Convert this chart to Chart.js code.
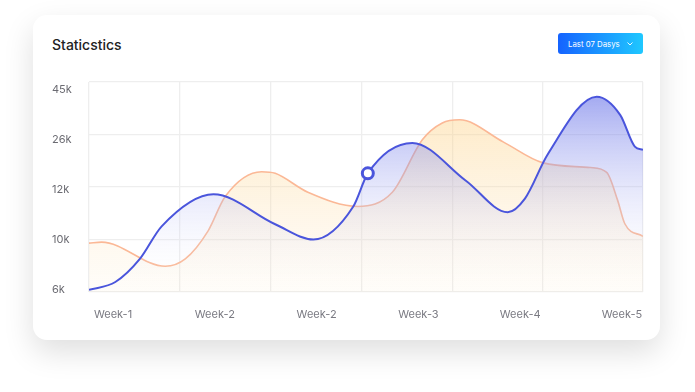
<!DOCTYPE html>
<html>
<head>
<meta charset="utf-8">
<script src="https://cdn.jsdelivr.net/npm/chart.js@4.4.1/dist/chart.umd.min.js"></script>
<style>
  html, body { margin: 0; padding: 0; background: #fff; }
  body { width: 695px; height: 392px; position: relative; overflow: hidden; font-family: 'Inter', sans-serif; }
  #card {
    position: absolute; left: 33px; top: 15px; width: 627px; height: 325px;
    background: #fff; border-radius: 14px;
    box-shadow: 0 12px 30px rgba(0, 0, 0, 0.13);
  }
  #title { position: absolute; left: 52px; top: 36px; font-size: 14px; font-weight: 500; color: #222; }
  #range-btn {
    position: absolute; left: 558px; top: 33px; width: 85px; height: 21px;
    border-radius: 3px; color: #fff; font-size: 7.8px;
    background: linear-gradient(90deg, #1563ff, #1fc8ff);
    display: flex; align-items: center; padding-left: 10px; box-sizing: border-box;
  }
  #range-btn svg { margin-left: 7px; }
  #chart { position: absolute; left: 0; top: 0; }
</style>
</head>
<body>
<div id="card"></div>
<div id="title">Staticstics</div>
<div id="range-btn">Last 07 Dasys
  <svg width="6" height="4" viewBox="0 0 6 4"><path d="M0.5 0.5 L3 3 L5.5 0.5" fill="none" stroke="#fff" stroke-width="0.9"/></svg>
</div>
<canvas id="chart" width="695" height="392"></canvas>
<script>
// tick labels
const weekLabels = ['Week-1', 'Week-2', 'Week-2', 'Week-3', 'Week-4', 'Week-5']
const valueLabels = ['6k', '10k', '12k', '26k', '45k']

// series (x in grid columns, y in grid rows : 0 = 6k ... 4 = 45k)
const blueX = [0, 0.29, 0.56, 0.8, 1.37, 2.05, 2.47, 2.91, 3.07, 3.56, 4.15, 4.61, 4.8, 5.05, 5.59, 5.85, 6.01, 6.1]
const blueY = [0.04, 0.19, 0.63, 1.25, 1.86, 1.29, 1.0, 1.63, 2.26, 2.84, 2.12, 1.52, 1.78, 2.62, 3.72, 3.37, 2.77, 2.71]
const orangeX = [0, 0.14, 0.84, 1.06, 1.31, 1.5, 1.9, 2.05, 2.41, 2.96, 3.34, 3.67, 3.89, 4.08, 4.56, 5.0, 5.52, 5.7, 5.82, 5.9, 6.1]
const orangeY = [0.93, 0.95, 0.49, 0.63, 1.16, 1.82, 2.29, 2.26, 1.9, 1.63, 1.9, 2.9, 3.22, 3.28, 2.86, 2.46, 2.37, 2.28, 1.75, 1.3, 1.06]
const markerIndex = 8

// grid columns
const gridCols = [0, 1, 2, 3, 4, 5, 6.1]

Chart.defaults.font.family = 'Inter'

function toPoints(xs, ys) {
  return xs.map((x, i) => ({ x: x, y: ys[i] }))
}

function gradient(ctx, top, bottom) {
  const area = ctx.chart.chartArea
  if (!area) return top
  const g = ctx.chart.ctx.createLinearGradient(0, area.top, 0, area.bottom)
  g.addColorStop(0, top)
  g.addColorStop(1, bottom)
  return g
}

const chart = document.getElementById('chart')
new Chart(chart, {
  type: 'line',
  data: {
    datasets: [
      {
        data: toPoints(blueX, blueY),
        borderColor: '#4a55dc',
        borderWidth: 2,
        cubicInterpolationMode: 'monotone',
        fill: 'origin',
        backgroundColor: (ctx) => gradient(ctx, 'rgba(80, 92, 228, 0.6)', 'rgba(255, 255, 255, 0)'),
        pointRadius: blueX.map((x, i) => i == markerIndex ? 5.5 : 0),
        pointHoverRadius: 0,
        pointBorderWidth: 3,
        pointBorderColor: '#4a55dc',
        pointBackgroundColor: '#fff'
      },
      {
        data: toPoints(orangeX, orangeY),
        borderColor: '#fbb896',
        borderWidth: 1.6,
        cubicInterpolationMode: 'monotone',
        fill: 'origin',
        backgroundColor: (ctx) => gradient(ctx, 'rgba(253, 205, 120, 0.5)', 'rgba(253, 225, 180, 0.08)'),
        pointRadius: 0
      }
    ]
  },
  options: {
    responsive: false,
    animation: false,
    layout: { padding: { left: 52, right: 52, top: 82, bottom: 70 } },
    plugins: { legend: { display: false }, tooltip: { enabled: false } },
    scales: {
      // grid only
      x: {
        type: 'linear', position: 'top', min: 0, max: 6.1,
        afterBuildTicks: (axis) => { axis.ticks = gridCols.map(v => ({ value: v })) },
        afterFit: (axis) => { axis.height = 0 },
        ticks: { display: false },
        grid: { color: '#eeeeee', lineWidth: 1.3, drawTicks: false },
        border: { display: false }
      },
      y: {
        type: 'linear', position: 'right', min: 0, max: 4,
        afterBuildTicks: (axis) => { axis.ticks = valueLabels.map((l, i) => ({ value: i })) },
        afterFit: (axis) => { axis.width = 0 },
        ticks: { display: false },
        grid: { color: '#eeeeee', lineWidth: 1.3, drawTicks: false },
        border: { display: false }
      },
      // labels only
      xl: {
        type: 'linear', position: 'bottom', min: -0.236, max: 5.206,
        afterBuildTicks: (axis) => { axis.ticks = weekLabels.map((l, i) => ({ value: i })) },
        afterFit: (axis) => { axis.height = 30 },
        ticks: { callback: (v, i) => weekLabels[i], color: '#7a7a82', font: { size: 11 }, padding: 16, maxRotation: 0 },
        grid: { display: false, drawTicks: false },
        border: { display: false }
      },
      yl: {
        type: 'linear', position: 'left', min: -0.04, max: 4.16,
        afterBuildTicks: (axis) => { axis.ticks = valueLabels.map((l, i) => ({ value: i })) },
        afterFit: (axis) => { axis.width = 37 },
        ticks: { callback: (v, i) => valueLabels[i], color: '#6b6b72', font: { size: 11 }, crossAlign: 'far', padding: 0 },
        grid: { display: false, drawTicks: false },
        border: { display: false }
      }
    }
  }
})
</script>
</body>
</html>
